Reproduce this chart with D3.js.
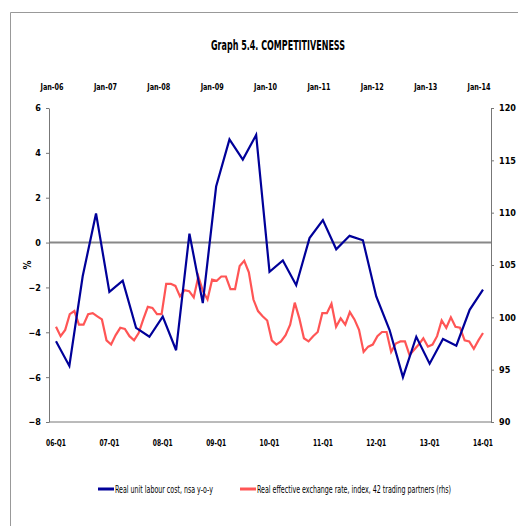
<!DOCTYPE html>
<html><head><meta charset="utf-8">
<script src="https://cdn.jsdelivr.net/npm/d3@7"></script>
<style>body{margin:0;background:#fff}text{font-family:"DejaVu Sans Condensed","Liberation Sans Narrow",sans-serif}</style>
</head><body><svg id="c" width="518" height="526"></svg>
<script>
const quarters = ["06-Q1","06-Q2","06-Q3","06-Q4","07-Q1","07-Q2","07-Q3","07-Q4","08-Q1","08-Q2","08-Q3","08-Q4","09-Q1","09-Q2","09-Q3","09-Q4","10-Q1","10-Q2","10-Q3","10-Q4","11-Q1","11-Q2","11-Q3","11-Q4","12-Q1","12-Q2","12-Q3","12-Q4","13-Q1","13-Q2","13-Q3","13-Q4","14-Q1"];
const ulc = [-4.4,-5.5,-1.5,1.3,-2.2,-1.7,-3.8,-4.2,-3.3,-4.8,0.4,-2.7,2.5,4.6,3.7,4.8,-1.3,-0.8,-1.9,0.2,1.0,-0.3,0.3,0.1,-2.4,-3.9,-6.0,-4.2,-5.4,-4.3,-4.6,-3.0,-2.1];
const reer = [99.1,98.2,98.8,100.3,100.6,99.3,99.3,100.3,100.4,100.1,99.8,97.8,97.4,98.3,99.0,98.9,98.2,97.8,98.5,99.8,101.0,100.9,100.3,100.3,103.2,103.2,103.0,102.0,102.6,102.5,101.9,103.9,102.5,101.7,103.6,103.5,103.9,103.9,102.7,102.7,104.9,105.4,104.3,101.7,100.6,100.1,99.7,97.8,97.4,97.7,98.3,99.3,101.4,99.9,98.0,97.7,98.2,98.6,100.4,100.4,101.3,99.1,99.9,99.3,100.5,99.8,98.8,96.7,97.2,97.4,98.2,98.6,98.6,96.7,97.5,97.7,97.7,96.4,96.9,97.4,98.0,97.2,97.4,98.2,99.7,99.0,100.0,99.1,99.0,97.8,97.7,97.0,97.8,98.5];
const topLabels = ["Jan-06","Jan-07","Jan-08","Jan-09","Jan-10","Jan-11","Jan-12","Jan-13","Jan-14"];
const bottomLabels = ["06-Q1","07-Q1","08-Q1","09-Q1","10-Q1","11-Q1","12-Q1","13-Q1","14-Q1"];
const leftTicks = [6,4,2,0,-2,-4,-6,-8];
const rightTicks = [120,115,110,105,100,95,90];

const svg = d3.select("#c");
const L=49,R=491,T=108,B=422;
svg.append("path").attr("d","M10.5,526 V12.5 H518").attr("fill","none").attr("stroke","#999");
svg.append("text").attr("x",211).attr("y",50).attr("font-size",14).attr("font-weight","bold").attr("textLength",134).attr("lengthAdjust","spacingAndGlyphs").text("Graph 5.4. COMPETITIVENESS");

const x = d3.scaleLinear().domain([0,32]).range([56,483]);
const yl = d3.scaleLinear().domain([-8,6]).range([B,T]);
const yr = d3.scaleLinear().domain([90,120]).range([B,T]);
const xm = d3.scaleLinear().domain([0,reer.length-1]).range([56,483]);

svg.append("line").attr("x1",L).attr("x2",R).attr("y1",yl(0)).attr("y2",yl(0)).attr("stroke","#888").attr("stroke-width",2);
const ax=(g)=>{g.selectAll("text").attr("font-size",9).attr("font-weight","bold").attr("fill","#000");g.selectAll("path,line").attr("stroke","#777");};
svg.append("g").attr("transform",`translate(${L},0)`).call(d3.axisLeft(yl).tickValues(leftTicks).tickSize(3).tickSizeOuter(0)).call(ax).call(g=>g.selectAll(".tick text").attr("dx",-2));
svg.append("g").attr("transform",`translate(${R},0)`).call(d3.axisRight(yr).tickValues(rightTicks).tickSize(3).tickSizeOuter(0)).call(ax).call(g=>g.selectAll(".tick text").attr("dx",2));
svg.append("line").attr("x1",L).attr("x2",R).attr("y1",B).attr("y2",B).attr("stroke","#777");
bottomLabels.forEach((t,i)=>svg.append("text").attr("x",x(i*4)).attr("y",446).attr("text-anchor","middle").attr("font-size",9).attr("font-weight","bold").attr("textLength",20).attr("lengthAdjust","spacingAndGlyphs").text(t));
topLabels.forEach((t,i)=>svg.append("text").attr("x",x(i*4)-4).attr("y",90).attr("text-anchor","middle").attr("font-size",9).attr("font-weight","bold").attr("textLength",23).attr("lengthAdjust","spacingAndGlyphs").text(t));
svg.append("text").attr("transform","translate(31,265) rotate(-90)").attr("text-anchor","middle").attr("font-size",10).attr("font-weight","bold").text("%");

svg.append("path").datum(reer).attr("fill","none").attr("stroke","#ff5555").attr("stroke-width",2.2)
 .attr("d",d3.line().x((d,i)=>xm(i)).y(d=>yr(d)));
svg.append("path").datum(ulc).attr("fill","none").attr("stroke","#000099").attr("stroke-width",2.2)
 .attr("d",d3.line().x((d,i)=>x(i)).y(d=>yl(d)));

const lg=[{c:"#000099",t:"Real unit labour cost, nsa y-o-y",x:98,w:98},{c:"#ff5555",t:"Real effective exchange rate, index, 42 trading partners (rhs)",x:240,w:194}];
lg.forEach(d=>{svg.append("line").attr("x1",d.x).attr("x2",d.x+16).attr("y1",489).attr("y2",489).attr("stroke",d.c).attr("stroke-width",3);
 svg.append("text").attr("x",d.x+17).attr("y",493).attr("font-size",10).attr("textLength",d.w).attr("lengthAdjust","spacingAndGlyphs").text(d.t);});
</script></body></html>
